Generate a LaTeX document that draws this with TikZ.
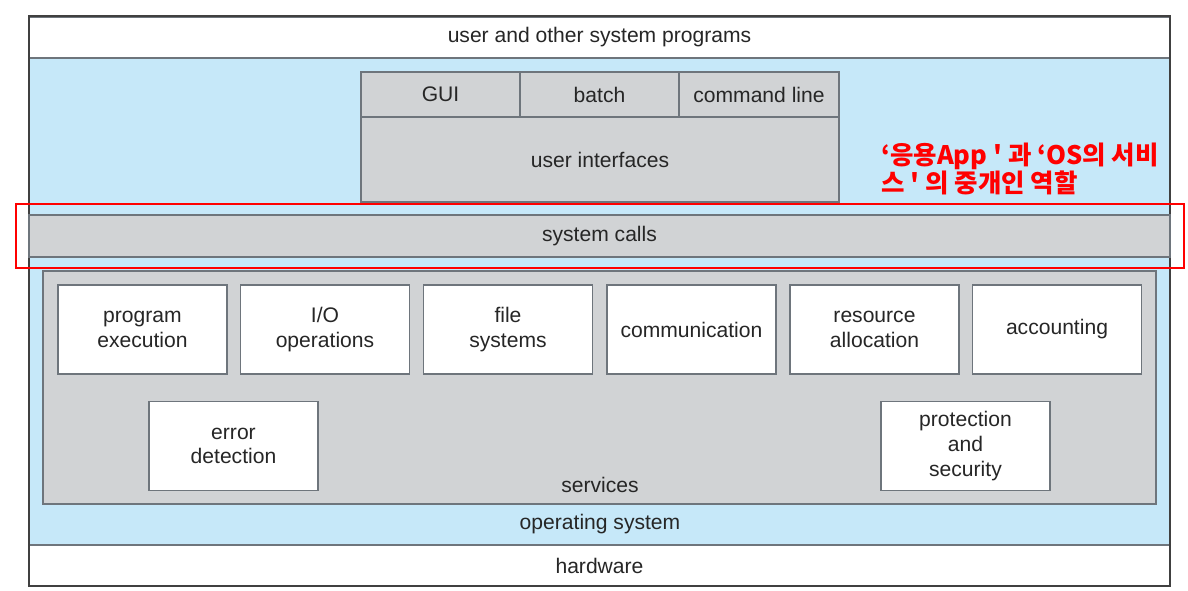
\documentclass[tikz,border=0pt]{standalone}
\usepackage{fontspec}
\setmainfont{Liberation Sans}
\newfontfamily\kofont{Noto Sans CJK KR}
\definecolor{osblue}{HTML}{C6E8F9}
\definecolor{boxgray}{HTML}{D1D3D5}
\definecolor{linegray}{HTML}{6E757C}
\definecolor{notered}{HTML}{FF0000}

\begin{document}
\begin{tikzpicture}[
    x=0.02cm, y=-0.02cm,
    every node/.style={font=\fontsize{12}{14}\selectfont, text=black!85, align=center, inner sep=0pt},
    band/.style={draw=linegray, line width=0.7pt, minimum width=22.82cm},
    uibox/.style={draw=linegray, line width=0.7pt, fill=boxgray, minimum height=0.9cm},
    svcbox/.style={draw=linegray, line width=0.7pt, fill=white, minimum width=3.38cm, minimum height=1.78cm}
]
\useasboundingbox (0,0) rectangle (1188,591);

% layers
\node[band, fill=osblue, minimum height=9.76cm] (os) at (599.5,301) {};
\node[band, fill=white, minimum height=0.82cm] (usrprog) at (599.5,37.5) {user and other system programs};
\node[band, fill=white, minimum height=0.82cm] (hw) at (599.5,566) {hardware};
\node (oslabel) at (600,524) {operating system};
\draw[black!75, line width=0.9pt] (29,16) rectangle (1170,586);

% user interfaces
\node[uibox, minimum width=9.56cm, minimum height=1.7cm] (ui) at (600,159.5) {user interfaces};
\node[uibox, minimum width=3.18cm] (gui) at (440.5,94.5) {GUI};
\node[uibox, minimum width=3.18cm] (batch) at (599.5,94.5) {batch};
\node[uibox, minimum width=3.2cm] (cmdline) at (759,94.5) {command line};

% system calls
\node[band, fill=boxgray, minimum height=0.84cm] (syscalls) at (599.5,236) {system calls};
\node[draw=notered, line width=0.9pt, minimum width=23.36cm, minimum height=1.28cm] (mark) at (600,236) {};
\node[anchor=north west, align=left, text=notered, font=\kofont\bfseries\fontsize{14.5}{16}\selectfont] (note) at (881,143)
    {‘응용App ' 과 ‘OS의 서비\\스 ' 의 중개인 역할};

% services
\node[draw=linegray, line width=0.7pt, fill=boxgray, minimum width=22.26cm, minimum height=4.66cm] (services) at (599.5,387.5) {};
\node (svclabel) at (600,485) {services};
\node[svcbox] (progexec) at (142.5,329.5) {program\\execution};
\node[svcbox] (io) at (325,329.5) {I/O\\operations};
\node[svcbox] (files) at (508,329.5) {file\\systems};
\node[svcbox] (comm) at (691.5,329.5) {communication};
\node[svcbox] (resalloc) at (874.5,329.5) {resource\\allocation};
\node[svcbox] (acct) at (1057,329.5) {accounting};
\node[svcbox] (errdet) at (233.5,446) {error\\detection};
\node[svcbox] (protect) at (965.5,446) {protection\\and\\security};
\end{tikzpicture}
\end{document}
